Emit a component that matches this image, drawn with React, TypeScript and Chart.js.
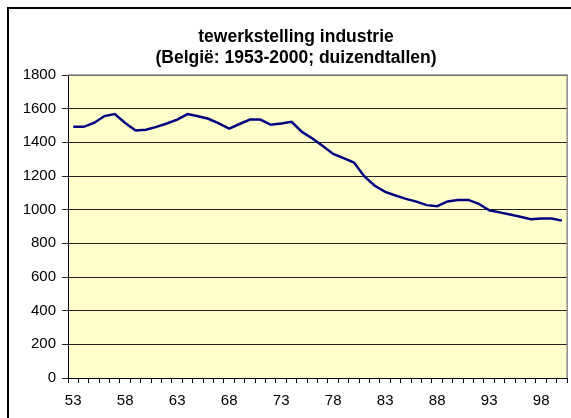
import React, { useEffect, useRef } from "react";
import { Chart, registerables } from "chart.js";

Chart.register(...registerables);

const years: string[] = [
  "53","54","55","56","57","58","59","60","61","62",
  "63","64","65","66","67","68","69","70","71","72",
  "73","74","75","76","77","78","79","80","81","82",
  "83","84","85","86","87","88","89","90","91","92",
  "93","94","95","96","97","98","99","00",
];

const employment: number[] = [
  1492, 1492, 1515, 1556, 1568, 1515, 1470, 1475, 1492, 1512,
  1535, 1568, 1555, 1540, 1512, 1482, 1509, 1535, 1535, 1504,
  1512, 1522, 1462, 1423, 1378, 1331, 1306, 1280, 1197, 1142,
  1106, 1084, 1064, 1048, 1027, 1021, 1049, 1058, 1058, 1035,
  996, 984, 971, 958, 943, 948, 948, 935,
];

const titleLines: string[] = [
  "tewerkstelling industrie",
  "(België: 1953-2000; duizendtallen)",
];

const yTicks = { min: 0, max: 1800, step: 200 };

const FONT = "Arial, 'Liberation Sans', sans-serif";

export default function App() {
  const ref = useRef<HTMLCanvasElement | null>(null);

  useEffect(() => {
    document.documentElement.style.overflow = "hidden";
    document.body.style.overflow = "hidden";
    const canvas = ref.current;
    if (!canvas) return;

    const bgPlugin = {
      id: "plotBg",
      beforeDraw(chart: any) {
        const { ctx, chartArea } = chart;
        ctx.save();
        ctx.fillStyle = "#FFFFCC";
        ctx.fillRect(chartArea.left, chartArea.top, chartArea.right - chartArea.left, chartArea.bottom - chartArea.top);
        ctx.restore();
      },
      afterDraw(chart: any) {
        const { ctx, chartArea } = chart;
        ctx.save();
        ctx.strokeStyle = "#8c8c8c";
        ctx.lineWidth = 1.5;
        ctx.beginPath();
        ctx.moveTo(chartArea.left, chartArea.top);
        ctx.lineTo(chartArea.right, chartArea.top);
        ctx.lineTo(chartArea.right, chartArea.bottom);
        ctx.stroke();
        ctx.fillStyle = "#000";
        ctx.font = "bold 17.5px " + FONT;
        ctx.textAlign = "center";
        ctx.textBaseline = "middle";
        ctx.fillText(titleLines[0], 288, 29);
        ctx.fillText(titleLines[1], 288, 50);
        ctx.restore();
      },
    };

    const chart = new Chart(canvas, {
      type: "line",
      data: {
        labels: years,
        datasets: [
          {
            data: employment,
            borderColor: "#000080",
            borderWidth: 2.5,
            pointRadius: 0,
            tension: 0,
            fill: false,
          },
        ],
      },
      options: {
        responsive: false,
        animation: false,
        layout: { padding: { left: 0, right: 2, top: 67, bottom: 0 } },
        plugins: {
          legend: { display: false },
          title: { display: false },
          tooltip: { enabled: false },
        },
        scales: {
          x: {
            type: "category",
            offset: true,
            grid: {
              offset: true,
              drawOnChartArea: false,
              drawTicks: true,
              tickLength: 5,
              color: "#000",
            },
            border: { display: true, color: "#000", width: 1 },
            ticks: {
              autoSkip: false,
              maxRotation: 0,
              minRotation: 0,
              padding: 9,
              color: "#000",
              font: { family: FONT, size: 15 },
              callback: (_v: any, i: number) => (i % 5 === 0 ? years[i] : ""),
            },
            afterFit: (s: any) => {
              s.height = 40;
            },
          },
          y: {
            min: yTicks.min,
            max: yTicks.max,
            grid: {
              color: "#222",
              lineWidth: 1,
              drawTicks: true,
              tickLength: 6,
            },
            border: { display: true, color: "#000", width: 1 },
            ticks: {
              stepSize: yTicks.step,
              padding: 6,
              color: "#000",
              font: { family: FONT, size: 15 },
              callback: (v: any) => String(v),
            },
            afterFit: (s: any) => {
              s.width = 60;
            },
          },
        },
      },
      plugins: [bgPlugin],
    });
    return () => chart.destroy();
  }, []);

  return (
    <div>
      <div
        style={{
          position: "fixed",
          left: 7,
          top: 7,
          width: 640,
          height: 520,
          border: "2px solid #000",
          boxSizing: "border-box",
          background: "#fff",
        }}
      />
      <canvas
        ref={ref}
        width={563}
        height={410}
        style={{ position: "fixed", left: 8, top: 8, width: 563, height: 410, display: "block" }}
      />
    </div>
  );
}
